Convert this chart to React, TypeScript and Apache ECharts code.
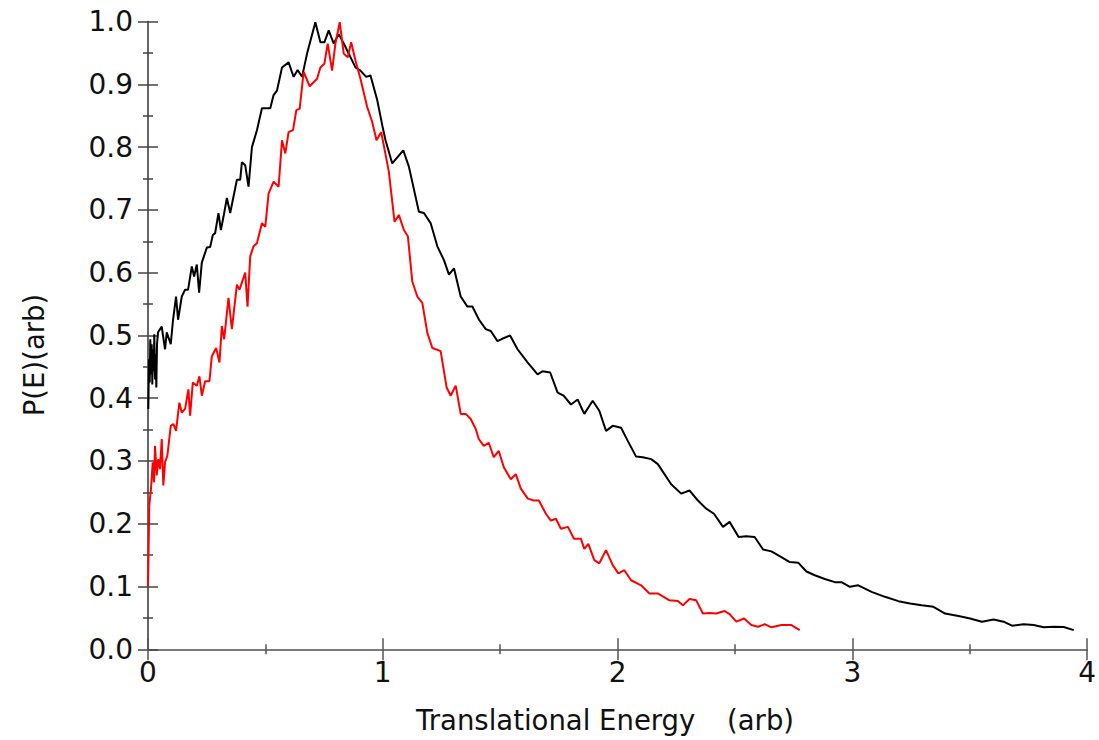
import React, { useEffect, useRef } from "react";
import * as echarts from "echarts";

const xTicks = [0, 1, 2, 3, 4];
const yTickFormat = (v: number) => v.toFixed(1);

const blackX = [
  0.0013, 0.0043, 0.0073, 0.0098, 0.0128, 0.0158, 0.0184, 0.0213, 0.0243, 0.0269, 0.0299, 0.0329, 0.0354, 0.0384, 0.0427,
  0.0585, 0.0726, 0.0798, 0.0969, 0.1067, 0.1195, 0.1281, 0.1439, 0.158, 0.1708, 0.1866, 0.1964, 0.2079, 0.2177, 0.2292,
  0.2506, 0.2647, 0.2762, 0.286, 0.3001, 0.3104, 0.3215, 0.336, 0.35, 0.3641, 0.3787, 0.3927, 0.4, 0.4141, 0.4282,
  0.4427, 0.464, 0.4854, 0.5208, 0.5349, 0.5494, 0.5708, 0.5989, 0.6203, 0.6374, 0.6561, 0.6775, 0.7129, 0.7343, 0.7513,
  0.7697, 0.791, 0.8124, 0.8337, 0.8551, 0.8837, 0.905, 0.9293, 0.9477, 0.9763, 0.9977, 1.0117, 1.0403, 1.0873, 1.1112,
  1.1539, 1.1752, 1.2038, 1.2324, 1.2606, 1.282, 1.3033, 1.3319, 1.3605, 1.3819, 1.41, 1.4386, 1.46, 1.4886, 1.5168,
  1.5424, 1.574, 1.6167, 1.6593, 1.6807, 1.7131, 1.7447, 1.7703, 1.8015, 1.8301, 1.8583, 1.8941, 1.9223, 1.9509, 1.9795,
  2.015, 2.0435, 2.079, 2.1076, 2.1431, 2.1716, 2.1998, 2.2284, 2.2711, 2.3065, 2.3424, 2.3778, 2.4107, 2.4491, 2.4773,
  2.5157, 2.5486, 2.584, 2.6199, 2.6553, 2.698, 2.7334, 2.7693, 2.8047, 2.8401, 2.8828, 2.9255, 2.9541, 2.9895, 3.0254,
  3.0822, 3.139, 3.1962, 3.2457, 3.2956, 3.3456, 3.3951, 3.4523, 3.5018, 3.5518, 3.6017, 3.6444, 3.6798, 3.7298, 3.7724,
  3.8151, 3.8578, 3.9005, 3.9432,
];
const blackY = [
  0.383, 0.462, 0.425, 0.494, 0.438, 0.486, 0.422, 0.478, 0.443, 0.502, 0.43, 0.47, 0.417, 0.486, 0.505,
  0.514, 0.478, 0.505, 0.486, 0.525, 0.562, 0.525, 0.562, 0.573, 0.573, 0.61, 0.594, 0.613, 0.568, 0.616,
  0.64, 0.641, 0.66, 0.663, 0.695, 0.668, 0.689, 0.719, 0.695, 0.721, 0.748, 0.748, 0.776, 0.771, 0.737,
  0.8, 0.827, 0.862, 0.862, 0.883, 0.89, 0.927, 0.935, 0.912, 0.923, 0.912, 0.949, 0.999, 0.967, 0.967,
  0.986, 0.965, 0.98, 0.965, 0.949, 0.927, 0.922, 0.912, 0.914, 0.875, 0.835, 0.811, 0.774, 0.795, 0.769,
  0.697, 0.695, 0.679, 0.642, 0.62, 0.597, 0.607, 0.562, 0.546, 0.546, 0.525, 0.51, 0.507, 0.491, 0.496,
  0.5, 0.478, 0.457, 0.438, 0.443, 0.441, 0.409, 0.404, 0.39, 0.398, 0.375, 0.396, 0.38, 0.348, 0.356,
  0.353, 0.332, 0.307, 0.306, 0.303, 0.295, 0.279, 0.263, 0.248, 0.253, 0.237, 0.224, 0.216, 0.195, 0.203,
  0.179, 0.18, 0.179, 0.159, 0.156, 0.147, 0.139, 0.138, 0.124, 0.118, 0.112, 0.107, 0.107, 0.0995, 0.102,
  0.0915, 0.0836, 0.0767, 0.073, 0.07, 0.0677, 0.057, 0.053, 0.049, 0.044, 0.0476, 0.044, 0.0376, 0.04, 0.0386,
  0.035, 0.036, 0.0354, 0.0306,
];

const redX = [
  0.0, 0.0055, 0.0128, 0.0201, 0.0256, 0.0299, 0.0371, 0.044, 0.0512, 0.0585, 0.0653, 0.0726, 0.0824, 0.0969, 0.108,
  0.1195, 0.1336, 0.1439, 0.158, 0.172, 0.1793, 0.1908, 0.2079, 0.219, 0.2292, 0.2433, 0.2617, 0.2719, 0.2903, 0.3044,
  0.3146, 0.3244, 0.3428, 0.3573, 0.3787, 0.3898, 0.4141, 0.4239, 0.4354, 0.4495, 0.464, 0.4854, 0.4995, 0.5136, 0.5349,
  0.5563, 0.5708, 0.5849, 0.5989, 0.6177, 0.6318, 0.6459, 0.663, 0.6886, 0.7202, 0.7343, 0.7513, 0.7654, 0.7842, 0.7983,
  0.8167, 0.8337, 0.8508, 0.8653, 0.8837, 0.905, 0.9336, 0.955, 0.9733, 0.9934, 1.0258, 1.0502, 1.0685, 1.0899, 1.1069,
  1.1257, 1.1471, 1.1684, 1.1898, 1.2111, 1.2465, 1.2721, 1.2892, 1.3106, 1.3319, 1.3533, 1.3746, 1.396, 1.4088, 1.4301,
  1.4515, 1.4728, 1.4941, 1.5155, 1.5454, 1.5667, 1.588, 1.6179, 1.6435, 1.6649, 1.6947, 1.7161, 1.7375, 1.7588, 1.7887,
  1.8143, 1.8442, 1.8583, 1.8754, 1.901, 1.9223, 1.9509, 1.9795, 2.0034, 2.029, 2.0576, 2.1003, 2.1358, 2.1716, 2.2211,
  2.257, 2.2783, 2.3065, 2.3351, 2.3637, 2.3919, 2.4205, 2.4559, 2.4773, 2.5059, 2.5388, 2.5699, 2.5985, 2.6267, 2.6553,
  2.698, 2.7406, 2.7761,
];
const redY = [
  0.1, 0.229, 0.256, 0.298, 0.266, 0.324, 0.277, 0.303, 0.287, 0.335, 0.261, 0.298, 0.308, 0.356, 0.359,
  0.348, 0.393, 0.377, 0.383, 0.414, 0.372, 0.425, 0.42, 0.435, 0.404, 0.427, 0.427, 0.467, 0.48, 0.457,
  0.515, 0.494, 0.56, 0.51, 0.581, 0.573, 0.6, 0.546, 0.626, 0.642, 0.647, 0.679, 0.673, 0.726, 0.745,
  0.737, 0.811, 0.79, 0.824, 0.827, 0.859, 0.861, 0.92, 0.897, 0.909, 0.927, 0.933, 0.965, 0.922, 0.965,
  0.999, 0.949, 0.943, 0.967, 0.938, 0.909, 0.864, 0.84, 0.811, 0.824, 0.761, 0.681, 0.692, 0.668, 0.658,
  0.586, 0.562, 0.552, 0.504, 0.48, 0.475, 0.417, 0.404, 0.42, 0.375, 0.375, 0.367, 0.351, 0.335, 0.324,
  0.329, 0.306, 0.316, 0.29, 0.271, 0.279, 0.256, 0.24, 0.237, 0.237, 0.216, 0.205, 0.208, 0.192, 0.195,
  0.176, 0.176, 0.16, 0.168, 0.142, 0.137, 0.158, 0.134, 0.121, 0.126, 0.11, 0.102, 0.089, 0.089, 0.078,
  0.077, 0.07, 0.08, 0.078, 0.057, 0.058, 0.057, 0.061, 0.056, 0.044, 0.049, 0.0386, 0.036, 0.04, 0.035,
  0.0386, 0.0386, 0.0306,
];

const FONT = "DejaVu Sans";

export default function App() {
  const ref = useRef<HTMLDivElement>(null);
  useEffect(() => {
    if (!ref.current) return;
    const chart = echarts.init(ref.current, null, { renderer: "svg" });
    const blackData = blackX.map((x, i) => [x, blackY[i]]);
    const redData = redX.map((x, i) => [x, redY[i]]);
    const xBase = {
      type: "value",
      min: xTicks[0],
      max: xTicks[xTicks.length - 1],
      interval: 1,
      position: "bottom",
      splitLine: { show: false },
    };
    const yBase = {
      type: "value",
      min: 0,
      max: 1,
      interval: 0.1,
      position: "left",
      splitLine: { show: false },
    };
    chart.setOption({
      animation: false,
      backgroundColor: "#ffffff",
      grid: { left: 148, right: 11, top: 21.6, bottom: 90.7, containLabel: false },
      xAxis: [
        {
          ...xBase,
          axisLine: { show: true, onZero: false, lineStyle: { color: "#7a7a7a", width: 2 } },
          axisTick: { show: true, inside: false, length: 11, lineStyle: { color: "#555", width: 1.5 } },
          minorTick: { show: true, splitNumber: 2, length: 5, lineStyle: { color: "#555", width: 1.5 } },
          axisLabel: {
            show: true,
            margin: 9,
            color: "#111",
            fontFamily: FONT,
            fontSize: 28,
            formatter: (v: number) => String(v),
          },
        },
        {
          ...xBase,
          axisLine: { show: false, onZero: false },
          axisTick: { show: true, inside: true, length: 11, lineStyle: { color: "#555", width: 1.5 } },
          minorTick: { show: true, splitNumber: 2, length: 5, lineStyle: { color: "#555", width: 1.5 } },
          axisLabel: { show: false },
        },
      ],
      yAxis: [
        {
          ...yBase,
          axisLine: { show: true, onZero: false, lineStyle: { color: "#333", width: 1.5 } },
          axisTick: { show: true, inside: false, length: 10, lineStyle: { color: "#444", width: 1.5 } },
          minorTick: { show: true, splitNumber: 2, length: 5, lineStyle: { color: "#444", width: 1.5 } },
          axisLabel: {
            show: true,
            margin: 15,
            color: "#111",
            fontFamily: FONT,
            fontSize: 28,
            formatter: yTickFormat,
          },
        },
        {
          ...yBase,
          axisLine: { show: false, onZero: false },
          axisTick: { show: true, inside: true, length: 10, lineStyle: { color: "#444", width: 1.5 } },
          minorTick: { show: true, splitNumber: 2, length: 5, lineStyle: { color: "#444", width: 1.5 } },
          axisLabel: { show: false },
        },
      ],
      graphic: [
        {
          type: "text",
          x: 416,
          y: 720,
          style: {
            text: "Translational Energy",
            font: `27.5px '${FONT}'`,
            fill: "#111",
            textAlign: "left",
            textVerticalAlign: "middle",
          },
        },
        {
          type: "text",
          x: 727,
          y: 720,
          style: {
            text: "(arb)",
            font: `27.5px '${FONT}'`,
            fill: "#111",
            textAlign: "left",
            textVerticalAlign: "middle",
          },
        },
        {
          type: "text",
          x: 34,
          y: 355,
          rotation: Math.PI / 2,
          style: {
            text: "P(E)(arb)",
            font: `27.5px '${FONT}'`,
            fill: "#111",
            textAlign: "center",
            textVerticalAlign: "middle",
          },
        },
      ],
      series: [
        {
          name: "black",
          type: "line",
          xAxisIndex: 0,
          yAxisIndex: 0,
          data: blackData,
          showSymbol: false,
          symbol: "none",
          lineStyle: { color: "#000000", width: 2 },
          z: 3,
        },
        {
          name: "red",
          type: "line",
          xAxisIndex: 0,
          yAxisIndex: 0,
          data: redData,
          showSymbol: false,
          symbol: "none",
          lineStyle: { color: "#ff0000", width: 2 },
          z: 4,
        },
      ],
    });
    return () => chart.dispose();
  }, []);
  return (
    <div
      ref={ref}
      style={{ position: "fixed", left: 0, top: 0, width: 1099, height: 740, background: "#fff" }}
    />
  );
}
